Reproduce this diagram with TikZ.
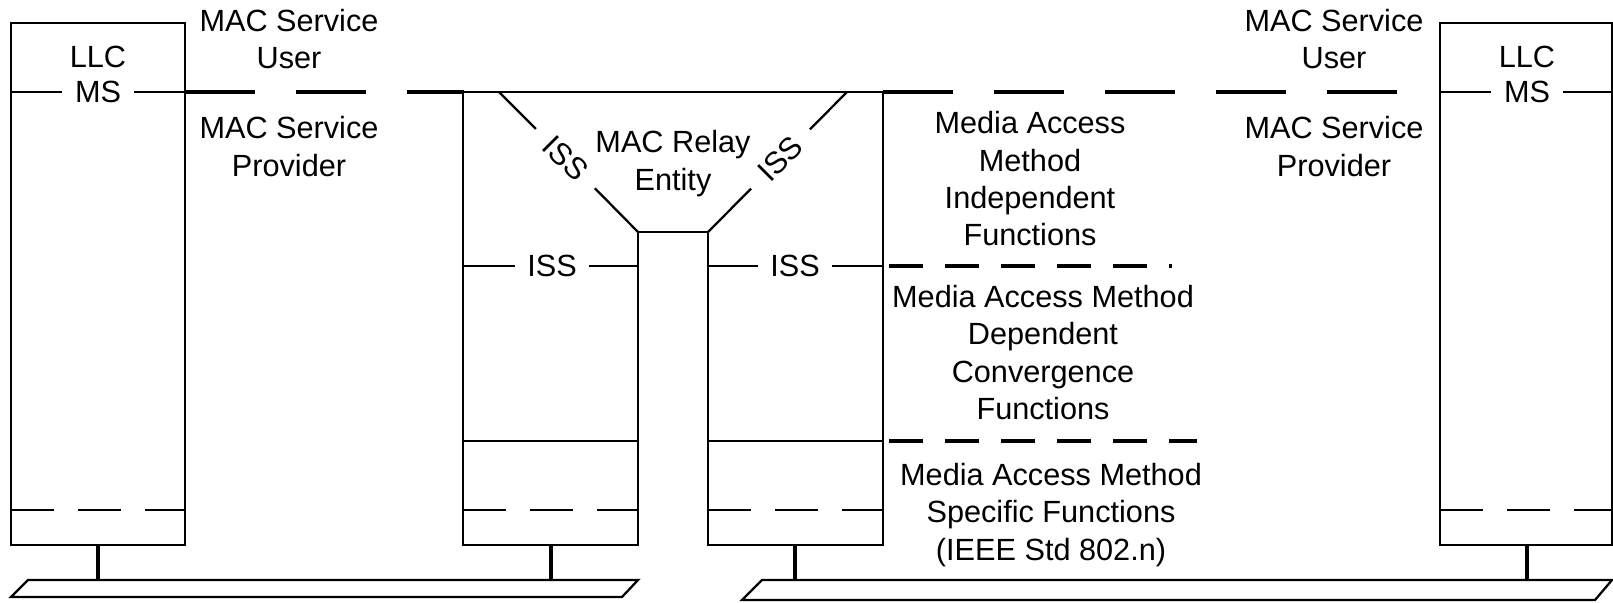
\documentclass[tikz,border=0pt]{standalone}
\usepackage{fontspec}
\setmainfont{Liberation Sans}

\tikzset{every picture/.style={line width=1.7pt}}
\tikzset{
  lbl/.style={font=\fontsize{23}{28}\selectfont, align=center, inner sep=0pt},
  onlbl/.style={lbl, inner xsep=9pt},
  svcdash/.style={line width=3.2pt, dash pattern=on 52.5pt off 30.75pt},
  issdash/.style={line width=3.2pt, dash pattern=on 25.5pt off 16.5pt},
  thindash/.style={dash pattern=on 32.25pt off 18pt},
  stem/.style={line width=2.4pt}
}

\begin{document}
\begin{tikzpicture}[x=0.75pt,y=0.75pt,yscale=-1,xscale=1]
			\useasboundingbox (0,0) rectangle (1613,603);

			%Shape: Rectangle [left end station]
			\draw   (11,23) -- (185,23) -- (185,545) -- (11,545) -- cycle ;
			\draw [thindash] (11,510) -- (185,510) ;
			\node [lbl] (llcA) at (98,57) {LLC};
			\node [onlbl] (msA) at (98,92) {MS};
			\draw (11,92) -- (msA) ;
			\draw (msA) -- (185,92) ;

			%Shape: Polygon [bridge]
			\draw   (463,92) -- (883,92) -- (883,545) -- (708,545) -- (708,232) -- (638,232) -- (638,545) -- (463,545) -- cycle ;
			\draw   (463,441) -- (638,441) ;
			\draw   (708,441) -- (883,441) ;
			\draw [thindash] (463,510) -- (638,510) ;
			\draw [thindash] (708,510) -- (883,510) ;
			\node [lbl] (relay) at (673,163.5) {MAC Relay\\Entity};
			%Straight Lines [relay ports]
			\node [onlbl, inner xsep=12pt, rotate=-45] (issA) at (565.5,158.5) {ISS};
			\draw (499,92) -- (issA) ;
			\draw (issA) -- (638,232) ;
			\node [onlbl, inner xsep=12pt, rotate=45] (issB) at (780.5,159) {ISS};
			\draw (708,232) -- (issB) ;
			\draw (issB) -- (847,92) ;
			\node [onlbl, inner xsep=8pt] (issC) at (552,266) {ISS};
			\draw (463,266) -- (issC) ;
			\draw (issC) -- (638,266) ;
			\node [onlbl, inner xsep=8pt] (issD) at (795,266) {ISS};
			\draw (708,266) -- (issD) ;
			\draw (issD) -- (883,266) ;

			%Shape: Rectangle [right end station]
			\draw   (1440,23) -- (1612,23) -- (1612,545) -- (1440,545) -- cycle ;
			\draw [thindash] (1440,510) -- (1612,510) ;
			\node [lbl] (llcB) at (1527,57) {LLC};
			\node [onlbl] (msB) at (1527,92) {MS};
			\draw (1440,92) -- (msB) ;
			\draw (msB) -- (1612,92) ;

			%Straight Lines [service boundaries]
			\draw [svcdash] (185,92) -- (464,92) ;
			\draw [svcdash] (883,92) -- (1399,92) ;
			\draw [issdash] (889,266) -- (1172,266) ;
			\draw [issdash] (889,441) -- (1197,441) ;

			% Text Nodes
			\node [lbl] (userA) at (289,39) {MAC Service\\User};
			\node [lbl] (provA) at (289,146.5) {MAC Service\\Provider};
			\node [lbl] (userB) at (1334,39) {MAC Service\\User};
			\node [lbl] (provB) at (1334,146.5) {MAC Service\\Provider};
			\node [lbl] (indep) at (1030,179) {Media Access\\Method\\Independent\\Functions};
			\node [lbl] (dep) at (1043,352.5) {Media Access Method\\Dependent\\Convergence\\Functions};
			\node [lbl] (spec) at (1051,515) {Media Access Method\\Specific Functions\\(IEEE Std 802.n)};

			%Shape: Parallelogram [media]
			\draw   (28,580) -- (638,580) -- (622,597) -- (11,597) -- cycle ;
			\draw   (762,580) -- (1612,580) -- (1595,600) -- (742,600) -- cycle ;
			\draw [stem] (98,545) -- (98,580) ;
			\draw [stem] (551,545) -- (551,580) ;
			\draw [stem] (795,545) -- (795,580) ;
			\draw [stem] (1527,545) -- (1527,580) ;
		\end{tikzpicture}
\end{document}
